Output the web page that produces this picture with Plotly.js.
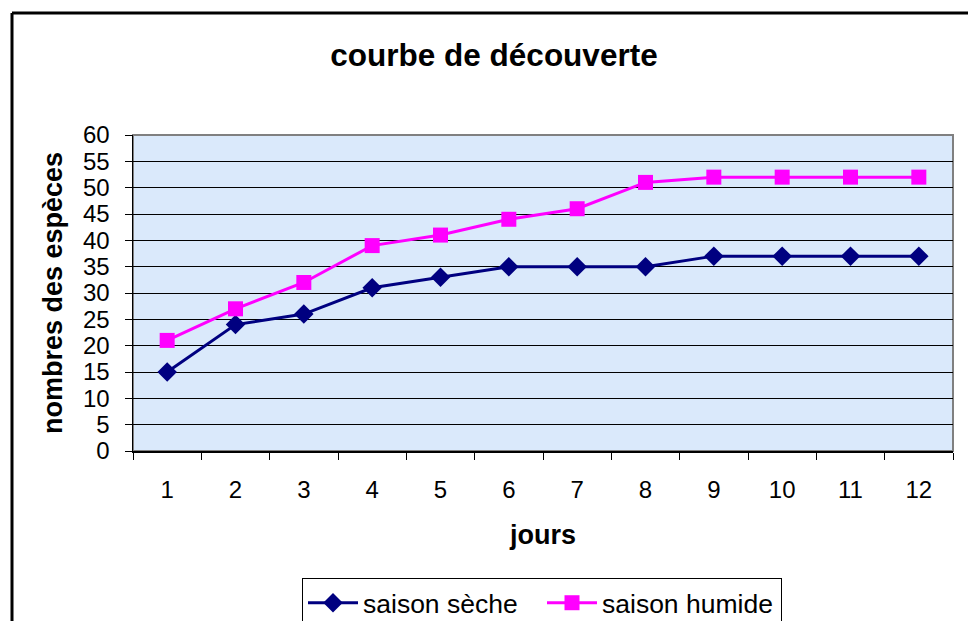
<!DOCTYPE html>
<html><head><meta charset="utf-8">
<script src="https://cdn.plot.ly/plotly-3.0.1.min.js"></script>
<style>body{margin:0;background:#fff}#c{width:968px;height:621px}</style>
</head><body><div id="c"></div>
<script>
const jours = ['1','2','3','4','5','6','7','8','9','10','11','12'];
const saisonSeche = [15,24,26,31,33,35,35,35,37,37,37,37];
const saisonHumide = [21,27,32,39,41,44,46,51,52,52,52,52];
const yTicks = [0,5,10,15,20,25,30,35,40,45,50,55,60];

const W=968,H=621,ml=133,mr=15,mt=135,mb=170;
const pw=W-ml-mr, ph=H-mt-mb;
const px = v => (v-ml)/pw;
const py = v => (H-mb-v)/ph;

const traces = [
 {x:jours,y:saisonSeche,name:'saison sèche',type:'scatter',mode:'lines+markers',
  line:{color:'#000080',width:3},marker:{symbol:'diamond',size:15,color:'#000080'}},
 {x:jours,y:saisonHumide,name:'saison humide',type:'scatter',mode:'lines+markers',
  line:{color:'#FF00FF',width:3},marker:{symbol:'square',size:15,color:'#FF00FF'}}
];
const font='Liberation Sans, Arial, sans-serif';
const layout = {
 width:W,height:H,margin:{l:ml,r:mr,t:mt,b:mb},
 paper_bgcolor:'#ffffff',plot_bgcolor:'#dae9fb',
 font:{family:font,color:'#000',size:24},
 showlegend:true,
 title:{text:'<b>courbe de découverte</b>',font:{size:31.5,family:font},x:494/W,xanchor:'center',y:1-55/H,yanchor:'middle'},
 xaxis:{type:'category',range:[-0.5,jours.length-0.5],tickson:'boundaries',ticks:'outside',ticklen:7,tickcolor:'#000',automargin:false,
   showline:true,linecolor:'#000',linewidth:1.5,showgrid:false,zeroline:false,
   ticklabelstandoff:17,tickfont:{size:24},
   title:{text:'<b>jours</b>',font:{size:27},standoff:23}},
 yaxis:{range:[0,60],tickvals:yTicks,ticks:'outside',ticklen:7,tickcolor:'#000',automargin:false,
   showline:true,linecolor:'#000',linewidth:1.5,showgrid:true,gridcolor:'#000',gridwidth:1,zeroline:false,
   ticklabelstandoff:10,tickfont:{size:24},
   title:{text:'<b>nombres des espèces</b>',font:{size:27},standoff:12}},
 legend:{orientation:'h',xref:'container',yref:'container',x:302/W,xanchor:'left',y:1-578/H,yanchor:'top',
   bordercolor:'#000',borderwidth:1,bgcolor:'#fff',font:{size:26.5},itemwidth:50,tracegroupgap:0,
   entrywidth:174,entrywidthmode:'pixels'},
 shapes:[
  {type:'rect',xref:'x domain',yref:'y domain',x0:0,x1:1,y0:0,y1:1,line:{color:'#808080',width:2},layer:'below'},
  {type:'line',xref:'paper',yref:'paper',x0:px(12),x1:px(12),y0:py(13),y1:py(630),line:{color:'#000',width:3}},
  {type:'line',xref:'paper',yref:'paper',x0:px(12),x1:px(975),y0:py(13),y1:py(13),line:{color:'#000',width:3}}
 ]
};
Plotly.newPlot('c',traces,layout,{displayModeBar:false,staticPlot:true});
</script></body></html>
